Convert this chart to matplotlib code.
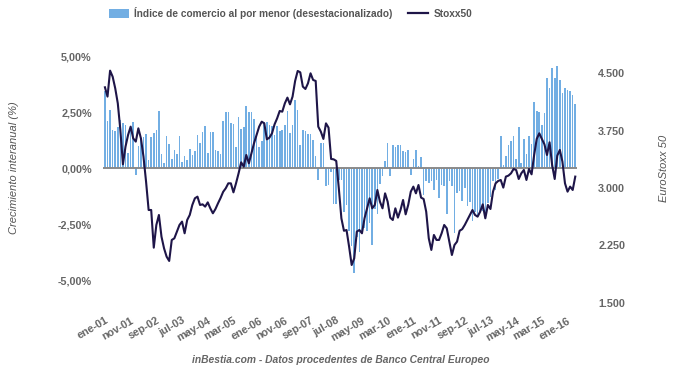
import matplotlib
matplotlib.use("Agg")
import matplotlib.pyplot as plt
from matplotlib.patches import Patch
from matplotlib.lines import Line2D
import numpy as np

plt.rcParams['font.family'] = ['Liberation Sans', 'DejaVu Sans']

# Monthly data, ene-01 .. abr-16
retail_yoy = [
    3.45, 2.10, 2.60, 1.70, 1.65, 1.85, 2.15, 2.00, 1.90, 0.67,
    1.85, 2.05, -0.30, 1.00, 1.35, 1.40, 1.50, 0.37, 1.40, 1.55,
    1.70, 2.53, 0.62, 0.22, 1.45, 1.08, 0.42, 0.82, 0.64, 1.42,
    0.25, 0.52, 0.34, 0.86, 0.60, 0.74, 1.46, 1.12, 1.61, 1.89,
    0.67, 1.62, 1.62, 0.82, 0.77, 0.64, 2.08, 2.49, 2.50, 2.01,
    1.98, 0.92, 2.26, 1.76, 1.82, 2.75, 2.49, 2.49, 2.19, 1.44,
    0.92, 1.19, 2.05, 2.05, 1.90, 1.86, 1.49, 1.86, 1.64, 1.71,
    1.90, 2.56, 1.56, 1.90, 3.05, 2.60, 1.01, 1.71, 1.67, 1.53,
    1.52, 1.26, 0.52, -0.52, 1.12, 1.12, -0.82, -0.74, -0.20, -1.60,
    -1.62, -0.52, -0.55, -1.95, -1.64, -2.80, -3.50, -4.69, -3.10, -3.75,
    -2.85, -2.70, -2.80, -2.45, -3.45, -1.85, -2.05, -0.70, -0.35, 0.30,
    1.12, -0.37, 1.04, 0.92, 1.04, 1.04, 0.74, 0.71, 0.82, -0.30,
    0.42, 0.82, 0.07, 0.48, -1.19, -0.60, -0.67, -0.60, -0.97, -0.52,
    -1.34, -0.74, -0.79, -2.05, -0.60, -0.82, -2.90, -1.12, -1.04, -1.49,
    -0.89, -1.70, -1.50, -2.35, -1.95, -2.10, -1.95, -1.90, -2.20, -1.55,
    -1.30, -0.60, -1.00, -0.50, 1.41, 0.15, 0.55, 1.01, 1.22, 1.44,
    0.42, 1.83, 0.22, 1.29, 0.62, 1.44, 1.07, 2.95, 2.56, 2.50,
    1.90, 2.46, 4.02, 3.57, 4.46, 4.02, 4.54, 3.94, 3.35, 3.57,
    3.47, 3.42, 3.27, 2.86,
]

stoxx50 = [
    4318, 4196, 4536, 4457, 4305, 4108, 3759, 3310, 3541, 3694,
    3803, 3650, 3607, 3781, 3650, 3410, 3083, 2712, 2712, 2219,
    2516, 2647, 2363, 2210, 2101, 2045, 2320, 2341, 2429, 2516,
    2560, 2407, 2581, 2647, 2778, 2865, 2887, 2778, 2786, 2756,
    2812, 2734, 2669, 2725, 2800, 2870, 2950, 2996, 3061, 3061,
    2943, 3061, 3192, 3336, 3279, 3432, 3323, 3454, 3585, 3694,
    3803, 3868, 3846, 3637, 3659, 3716, 3833, 3912, 4008, 3999,
    4108, 4183, 4095, 4196, 4401, 4532, 4514, 4327, 4296, 4370,
    4501, 4414, 4401, 3803, 3738, 3642, 3846, 3790, 3380, 3375,
    3354, 2996, 2603, 2440, 2450, 2232, 1992, 2080, 2429, 2450,
    2407, 2603, 2734, 2865, 2734, 2778, 2974, 2821, 2734, 2930,
    2821, 2612, 2581, 2734, 2612, 2712, 2843, 2655, 2778, 2952,
    3018, 2930, 3039, 2874, 2856, 2690, 2341, 2189, 2385, 2320,
    2320, 2407, 2516, 2472, 2298, 2123, 2254, 2298, 2440, 2461,
    2516, 2581, 2647, 2712, 2647, 2625, 2690, 2786, 2603, 2778,
    2725, 2952, 3061, 3092, 3105, 3005, 3149, 3162, 3192, 3249,
    3236, 3118, 3192, 3236, 3105, 3249, 3179, 3432, 3642, 3716,
    3642, 3572, 3432, 3598, 3301, 3118, 3423, 3498, 3345, 3061,
    2952, 3018, 2974, 3149,
]

tick_labels = ['ene-01', 'nov-01', 'sep-02', 'jul-03', 'may-04', 'mar-05',
               'ene-06', 'nov-06', 'sep-07', 'jul-08', 'may-09', 'mar-10',
               'ene-11', 'nov-11', 'sep-12', 'jul-13', 'may-14', 'mar-15',
               'ene-16']
left_ticks = [5.0, 2.5, 0.0, -2.5, -5.0]
left_tick_labels = ['5,00%', '2,50%', '0,00%', '-2,50%', '-5,00%']
right_ticks = [4500, 3750, 3000, 2250, 1500]
right_tick_labels = ['4.500', '3.750', '3.000', '2.250', '1.500']

bar_label = 'Índice de comercio al por menor (desestacionalizado)'
line_label = 'Stoxx50'

BAR_C = '#72aee3'
LINE_C = '#1e1548'
TXT_C = '#666666'

n = len(retail_yoy)
idx = np.arange(n)

fig = plt.figure(figsize=(6.8, 3.71), dpi=100)
ax = fig.add_axes([0.1513, 0.1644, 0.6977, 0.7008])
ax.bar(idx, retail_yoy, width=0.62, color=BAR_C, zorder=2)
ax.axhline(0, color='#8a8a8a', lw=1.4, zorder=3)
ax.set_xlim(-0.8, n - 0.2)
ax.set_ylim(-6.339, 5.268)
ax.set_yticks(left_ticks)
ax.set_yticklabels(left_tick_labels)
ax.set_xticks(np.arange(0, 10 * len(tick_labels), 10))
ax.set_xticklabels(tick_labels, rotation=30, ha='right', rotation_mode='anchor')
for s in ax.spines.values():
    s.set_visible(False)
ax.tick_params(axis='both', length=0, colors=TXT_C, labelsize=7.8)
ax.tick_params(axis='y', pad=8)
ax.tick_params(axis='x', pad=4)
for lab in ax.get_xticklabels() + ax.get_yticklabels():
    lab.set_fontweight('bold')

ax2 = ax.twinx()
ax2.plot(idx, stoxx50, color=LINE_C, lw=1.5, zorder=4)
ax2.set_ylim(1403, 4806)
ax2.set_yticks(right_ticks)
ax2.set_yticklabels(right_tick_labels)
for s in ax2.spines.values():
    s.set_visible(False)
ax2.tick_params(axis='y', length=0, colors=TXT_C, labelsize=7.8, pad=15)
for lab in ax2.get_yticklabels():
    lab.set_fontweight('bold')

fig.text(0.021, 0.547, 'Crecimiento interanual (%)', rotation=90,
         ha='center', va='center', fontsize=8, style='italic', color='#555555')
fig.text(0.976, 0.547, 'EuroStoxx 50', rotation=90,
         ha='center', va='center', fontsize=8, style='italic', color='#555555')
fig.text(0.501, 0.03, 'inBestia.com - Datos procedentes de Banco Central Europeo',
         ha='center', va='center', fontsize=7.35, style='italic',
         fontweight='bold', color=TXT_C)

handles = [Patch(facecolor=BAR_C, edgecolor='none'),
           Line2D([0], [0], color=LINE_C, lw=1.6)]
leg = fig.legend(handles, [bar_label, line_label], loc='center left',
                 bbox_to_anchor=(0.147, 0.965), ncol=2, frameon=False,
                 handlelength=2.0, handleheight=0.9, handletextpad=0.5,
                 columnspacing=1.5, borderpad=0.4,
                 prop={'size': 7.3, 'weight': 'bold'})
for t in leg.get_texts():
    t.set_color('#555555')

fig.savefig('out.png', dpi=100, facecolor='white')
